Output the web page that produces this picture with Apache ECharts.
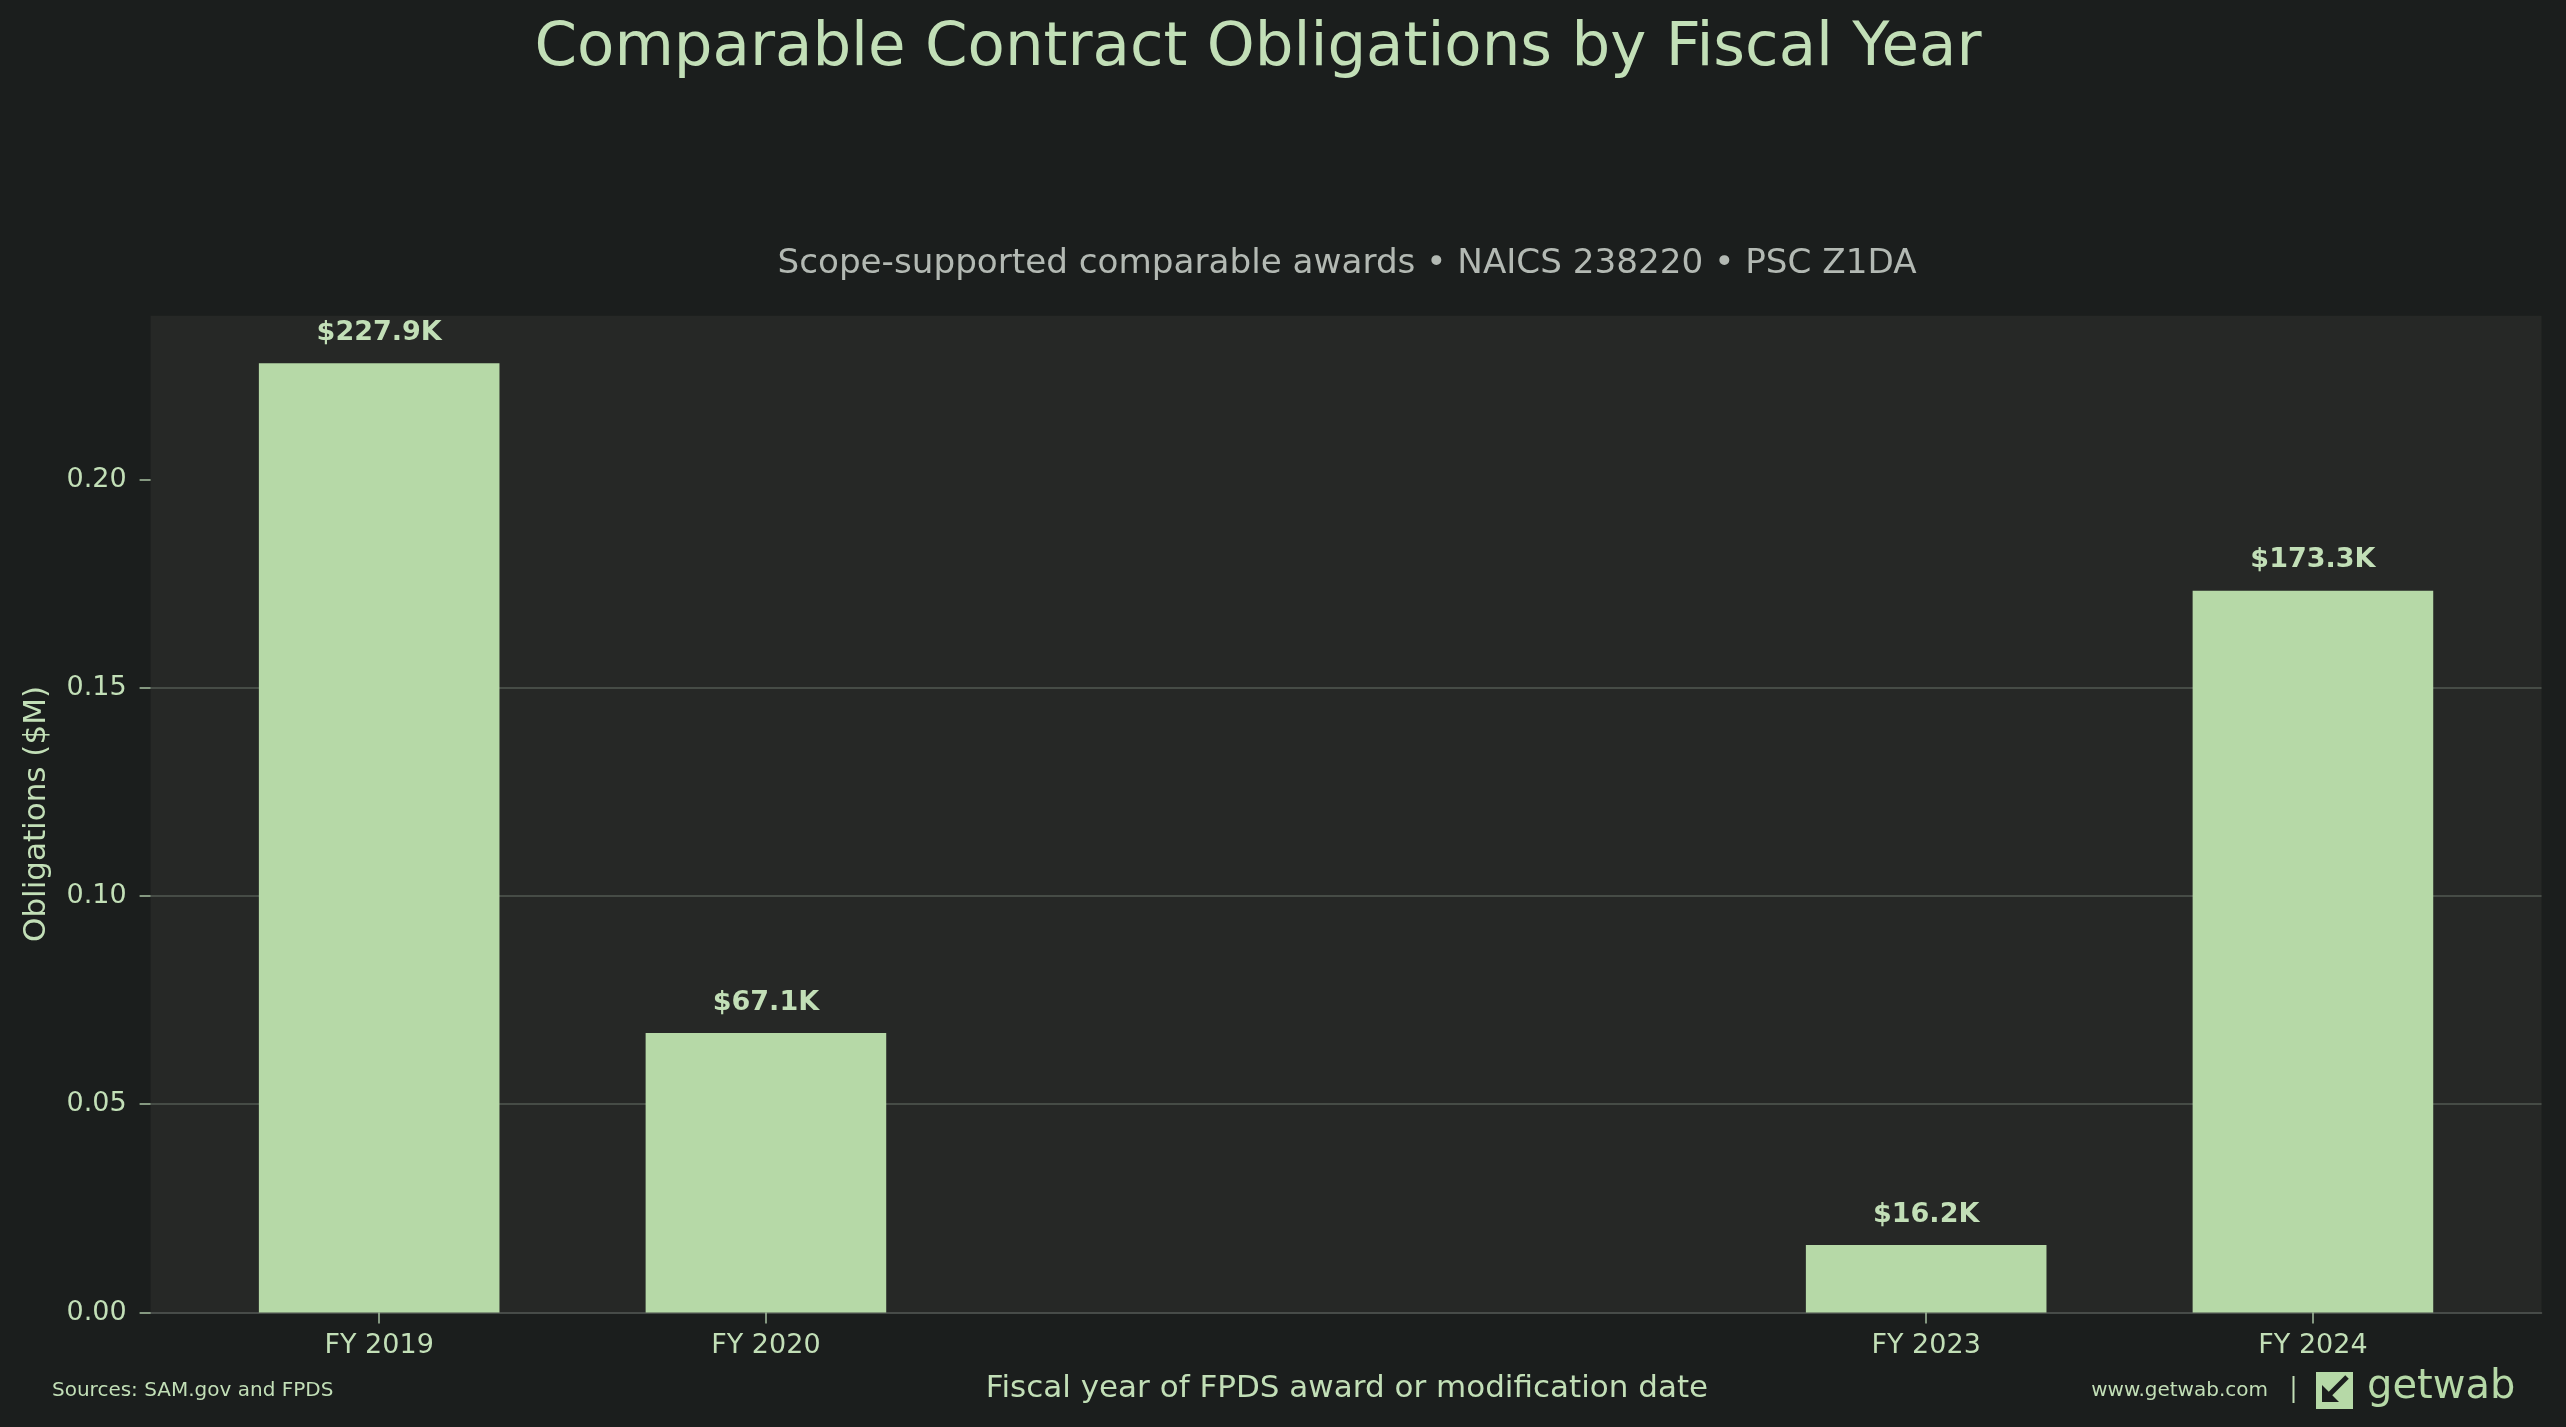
<!DOCTYPE html>
<html>
<head>
<meta charset="utf-8">
<script src="https://cdn.jsdelivr.net/npm/echarts@6/dist/echarts.min.js"></script>
<style>
html,body{margin:0;padding:0;background:#1b1e1d;}
#chart{width:2566px;height:1427px;}
</style>
</head>
<body>
<div id="chart"></div>
<script>
// ---- data ----
const fiscalYears = [2019, 2020, 2023, 2024];
const tickLabels = ['FY 2019', 'FY 2020', 'FY 2023', 'FY 2024'];
const obligationsM = [0.2279, 0.0671, 0.0162, 0.1733];
const yTicks = [0, 0.05, 0.10, 0.15, 0.20];

const FONT = 'DejaVu Sans';
const TXT = '#c2dfb7';
const BAR = '#b6d9a7';

const chart = echarts.init(document.getElementById('chart'));
const option = {
  backgroundColor: '#1b1e1d',
  animation: false,
  grid: {
    left: 150.6, right: 24.5, top: 315.8, bottom: 114.5,
    show: true, backgroundColor: '#262826', borderWidth: 0
  },
  xAxis: {
    type: 'value',
    min: 2018.409, max: 2024.591,
    splitLine: { show: false },
    axisLine: { show: true, lineStyle: { color: '#565b57', width: 1.5 } },
    axisTick: { show: true, customValues: fiscalYears, length: 11, lineStyle: { color: '#a9c2a2', width: 1.5 } },
    axisLabel: {
      customValues: fiscalYears,
      margin: 20,
      fontFamily: FONT, fontSize: 27, color: TXT,
      formatter: v => tickLabels[fiscalYears.indexOf(Math.round(v))] || ''
    }
  },
  yAxis: {
    type: 'value',
    min: 0, max: 0.2393,
    axisLine: { show: false },
    axisTick: { show: true, customValues: yTicks, length: 11, lineStyle: { color: '#a9c2a2', width: 1.5 } },
    axisLabel: {
      customValues: yTicks,
      margin: 24,
      fontFamily: FONT, fontSize: 27, color: TXT,
      formatter: v => v.toFixed(2)
    },
    splitLine: {
      show: true, showMinLine: false, showMaxLine: false,
      lineStyle: { color: '#464c46', width: 2 }
    }
  },
  series: [{
    type: 'bar',
    barWidth: 240.6,
    data: fiscalYears.map((y, i) => [y, obligationsM[i]]),
    itemStyle: { color: BAR },
    label: {
      show: true, position: 'top', distance: 17,
      fontFamily: FONT, fontSize: 27, fontWeight: 'bold', color: TXT,
      formatter: p => '$' + (p.value[1] * 1000).toFixed(1) + 'K'
    }
  }],
  graphic: [
    { type: 'text', x: 1258, y: 49, style: { text: 'Comparable Contract Obligations by Fiscal Year', fontFamily: FONT, fontSize: 61, fill: TXT, textAlign: 'center', textVerticalAlign: 'middle' } },
    { type: 'text', x: 1347, y: 264, style: { text: 'Scope-supported comparable awards • NAICS 238220 • PSC Z1DA', fontFamily: FONT, fontSize: 34.2, fill: '#b3b9b3', textAlign: 'center', textVerticalAlign: 'middle' } },
    { type: 'text', x: 1347, y: 1388.5, style: { text: 'Fiscal year of FPDS award or modification date', fontFamily: FONT, fontSize: 31, fill: TXT, textAlign: 'center', textVerticalAlign: 'middle' } },
    { type: 'text', x: 36.7, y: 814, rotation: Math.PI / 2, style: { text: 'Obligations ($M)', fontFamily: FONT, fontSize: 31, fill: TXT, textAlign: 'center', textVerticalAlign: 'middle' } },
    { type: 'text', x: 52, y: 1391, style: { text: 'Sources: SAM.gov and FPDS', fontFamily: FONT, fontSize: 20, fill: TXT, textAlign: 'left', textVerticalAlign: 'middle' } },
    { type: 'text', x: 2268, y: 1391, style: { text: 'www.getwab.com', fontFamily: FONT, fontSize: 20, fill: TXT, textAlign: 'right', textVerticalAlign: 'middle' } },
    { type: 'line', shape: { x1: 2293.5, y1: 1376, x2: 2293.5, y2: 1403 }, style: { stroke: TXT, lineWidth: 2 } },
    { type: 'rect', shape: { x: 2316, y: 1372, width: 37, height: 37 }, style: { fill: BAR } },
    { type: 'line', shape: { x1: 2347, y1: 1377, x2: 2327, y2: 1397 }, style: { stroke: '#1b1e1d', lineWidth: 5 } },
    { type: 'polygon', shape: { points: [[2322, 1385], [2322, 1402], [2339, 1402]] }, style: { fill: '#1b1e1d' } },
    { type: 'text', x: 2367, y: 1388, style: { text: 'getwab', fontFamily: FONT, fontSize: 40, fill: BAR, textAlign: 'left', textVerticalAlign: 'middle' } }
  ]
};
chart.setOption(option);
</script>
</body>
</html>
